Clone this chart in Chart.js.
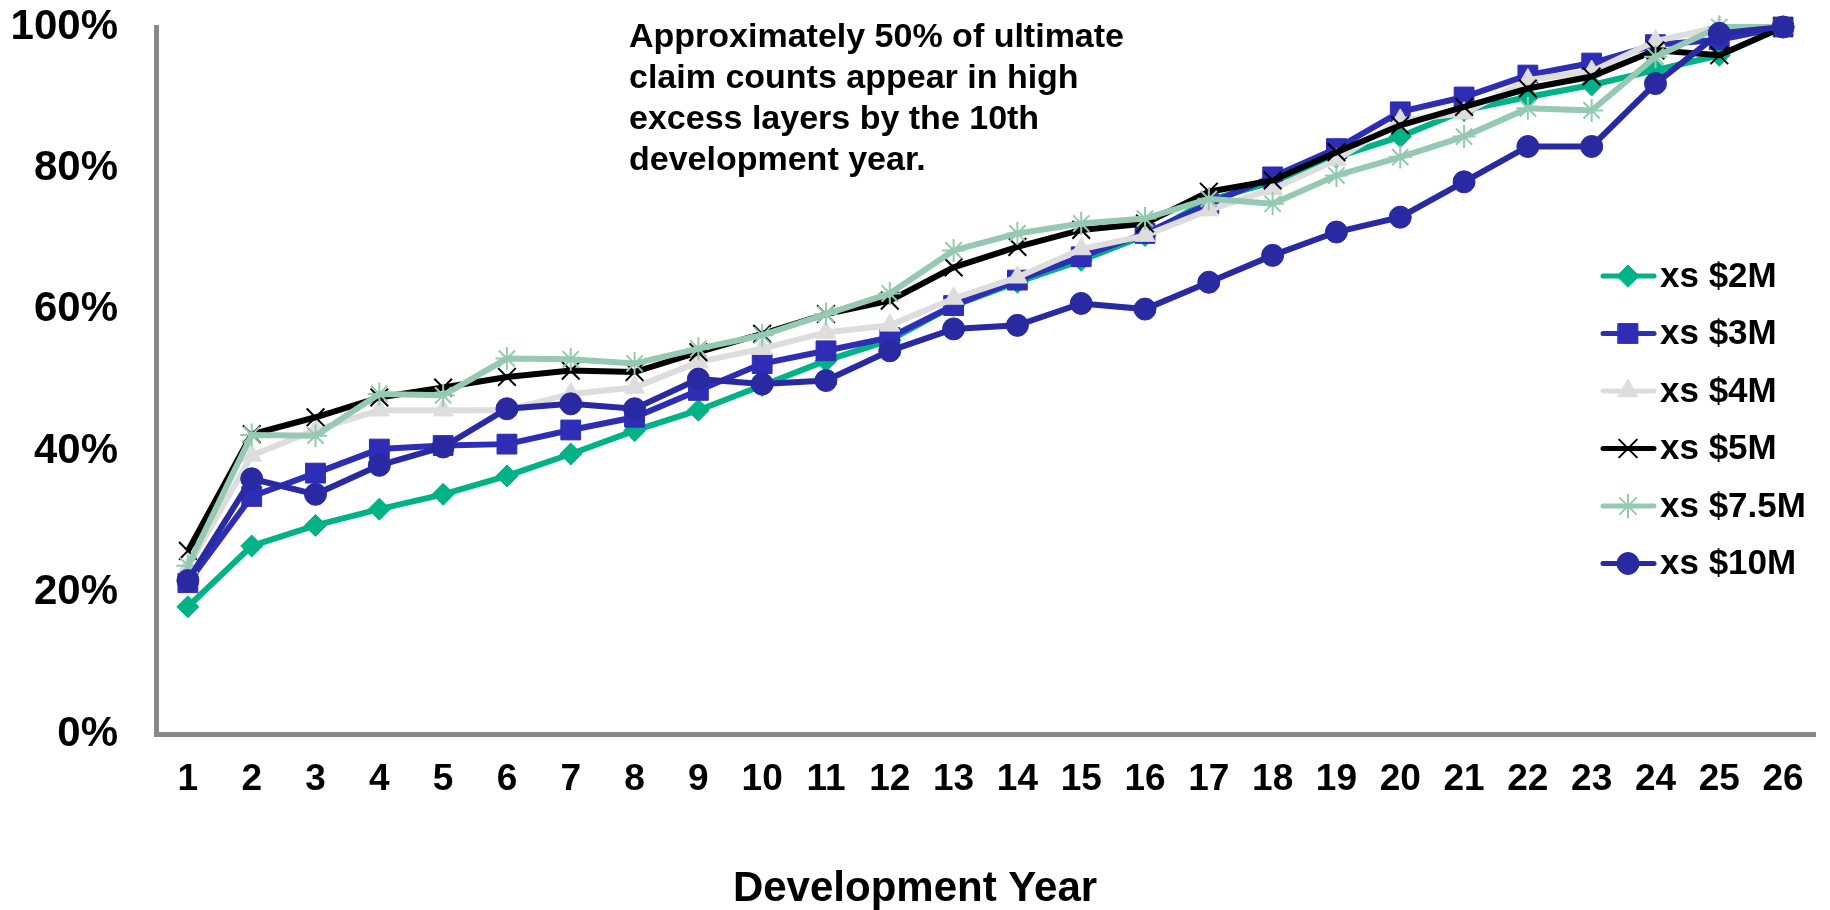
<!DOCTYPE html>
<html>
<head>
<meta charset="utf-8">
<title>Claim count development by excess layer</title>
<script src="https://cdn.jsdelivr.net/npm/chart.js@4.4.1/dist/chart.umd.min.js"></script>
<style>
  html, body { margin: 0; padding: 0; background: #ffffff; }
  #wrap { width: 1830px; height: 910px; }
</style>
</head>
<body>
<div id="wrap"><canvas id="chart" width="1830" height="910"></canvas></div>
<script>
// Development years on the category axis
const years = ['1','2','3','4','5','6','7','8','9','10','11','12','13',
               '14','15','16','17','18','19','20','21','22','23','24','25','26'];

// Cumulative share of ultimate claim counts (%) for each excess layer
const xs2M   = [18.0, 26.6, 29.5, 31.8, 33.9, 36.5, 39.6, 42.9, 45.8, 49.3, 52.8, 55.7, 60.6,
                63.9, 67.0, 70.5, 75.5, 78.1, 81.6, 84.5, 88.2, 90.1, 91.8, 93.9, 96.0, 100];
const xs3M   = [21.4, 33.6, 36.9, 40.3, 40.8, 41.0, 43.0, 44.8, 48.6, 52.4, 54.2, 56.1, 60.6,
                64.2, 67.5, 70.8, 75.0, 78.8, 82.8, 88.0, 90.1, 93.2, 94.9, 97.5, 98.2, 100];
const xs4M   = [23.6, 39.4, 43.0, 45.8, 45.8, 45.8, 48.1, 49.0, 52.6, 54.5, 56.8, 57.8, 61.6,
                64.6, 68.6, 70.5, 74.1, 77.1, 81.2, 86.8, 87.8, 92.5, 93.7, 98.0, 100, 100];
const xs5M   = [25.9, 42.4, 44.8, 47.6, 49.0, 50.5, 51.4, 51.2, 54.0, 56.6, 59.4, 61.3, 66.0,
                68.9, 71.3, 72.2, 76.7, 78.3, 82.3, 86.1, 88.7, 91.3, 93.0, 96.7, 96.0, 100];
const xs75M  = [23.8, 42.3, 42.2, 48.1, 47.9, 53.1, 53.0, 52.4, 54.5, 56.4, 59.4, 62.3, 68.4,
                70.8, 72.2, 72.9, 75.7, 75.0, 79.0, 81.6, 84.5, 88.5, 88.2, 95.8, 100, 100];
const xs10M  = [21.7, 36.1, 33.9, 38.0, 40.6, 46.0, 46.7, 46.0, 50.2, 49.5, 50.0, 54.2, 57.3,
                57.8, 60.9, 60.1, 63.9, 67.7, 71.0, 73.1, 78.1, 83.1, 83.1, 92.0, 99.1, 100];

// Series names
const seriesNames = ['xs $2M', 'xs $3M', 'xs $4M', 'xs $5M', 'xs $7.5M', 'xs $10M'];

// Value-axis ticks and their labels
const yTickValues = [0, 20, 40, 60, 80, 100];
const yTickLabels = ['0%', '20%', '40%', '60%', '80%', '100%'];

// Annotation and axis title text
const noteLines = ['Approximately 50% of ultimate',
                   'claim counts appear in high',
                   'excess layers by the 10th',
                   'development year.'];
const xAxisTitle = 'Development Year';

const FONT = "'Liberation Sans', Arial, Helvetica, sans-serif";

function series(label, data, color, style, radius, borderW, idx) {
  return {
    label: label,
    data: data,
    borderColor: color,
    backgroundColor: color,
    borderWidth: 6,
    pointStyle: style,
    pointRadius: radius,
    pointHoverRadius: radius,
    pointBackgroundColor: color,
    pointBorderColor: color,
    pointBorderWidth: borderW,
    tension: 0,
    fill: false,
    clip: false,
    order: 5 - idx   // later layers are painted on top
  };
}

const datasets = [
  series(seriesNames[0], xs2M,  '#00B386', 'rectRot',  11,   1, 0),
  series(seriesNames[1], xs3M,  '#2D2DB6', 'rect',     14,   1, 1),
  series(seriesNames[2], xs4M,  '#DDDDDD', 'triangle', 11.5, 1, 2),
  series(seriesNames[3], xs5M,  '#000000', 'crossRot', 12.5, 2, 3),
  series(seriesNames[4], xs75M, '#95C9B2', 'star',     11.5, 2, 4),
  series(seriesNames[5], xs10M, '#2929A2', 'circle',   11,   1, 5)
];

// Legend drawn over the right side of the plot, line + marker + label
const sideLegend = {
  id: 'sideLegend',
  afterDraw(chart) {
    const ctx = chart.ctx;
    const x0 = 1603, x1 = 1654, xm = 1628, xt = 1660;
    chart.data.datasets.forEach((ds, i) => {
      const y = 276 + i * 57.5;
      ctx.save();
      ctx.lineCap = 'round';
      ctx.strokeStyle = ds.borderColor;
      ctx.lineWidth = 5;
      ctx.beginPath();
      ctx.moveTo(x0, y);
      ctx.lineTo(x1, y);
      ctx.stroke();
      ctx.fillStyle = ds.pointBackgroundColor;
      ctx.strokeStyle = ds.pointBorderColor;
      ctx.lineWidth = ds.pointBorderWidth;
      Chart.helpers.drawPoint(ctx, {
        pointStyle: ds.pointStyle,
        radius: ds.pointRadius,
        rotation: 0,
        borderWidth: ds.pointBorderWidth
      }, xm, y);
      ctx.fillStyle = '#000000';
      ctx.font = 'bold 35px ' + FONT;
      ctx.textAlign = 'left';
      ctx.textBaseline = 'middle';
      ctx.fillText(ds.label, xt, y + 1);
      ctx.restore();
    });
  }
};

// Free-standing note and the category-axis title
const textBlocks = {
  id: 'textBlocks',
  afterDraw(chart) {
    const ctx = chart.ctx;
    ctx.save();
    ctx.fillStyle = '#000000';
    ctx.textBaseline = 'alphabetic';
    ctx.textAlign = 'left';
    ctx.font = 'bold 34px ' + FONT;
    noteLines.forEach((t, i) => ctx.fillText(t, 629, 47 + i * 41));
    ctx.textAlign = 'center';
    ctx.font = 'bold 42px ' + FONT;
    ctx.fillText(xAxisTitle, chart.width / 2, 901);
    ctx.restore();
  }
};

new Chart(document.getElementById('chart'), {
  type: 'line',
  data: { labels: years, datasets: datasets },
  options: {
    responsive: false,
    animation: false,
    events: [],
    layout: { padding: { top: 27, right: 15, bottom: 0, left: 0 } },
    plugins: {
      legend: { display: false },
      tooltip: { enabled: false },
      title: { display: false }
    },
    scales: {
      x: {
        type: 'category',
        offset: true,
        grid: { display: false, drawTicks: false },
        border: { display: true, color: '#888888', width: 5 },
        ticks: {
          autoSkip: false,
          maxRotation: 0,
          padding: 24,
          color: '#000000',
          font: { family: FONT, size: 37, weight: 'bold' }
        },
        afterFit(scale) {
          scale.height = 176;
          scale.paddingLeft = 0; scale.paddingRight = 0;
          scale.paddingTop = 0; scale.paddingBottom = 0;
        }
      },
      y: {
        min: 0,
        max: 100,
        afterBuildTicks(scale) { scale.ticks = yTickValues.map(v => ({ value: v })); },
        grid: { display: false, drawTicks: false },
        border: { display: true, color: '#888888', width: 5 },
        ticks: {
          padding: 38,
          color: '#000000',
          font: { family: FONT, size: 42, weight: 'bold' },
          callback: (v) => yTickLabels[yTickValues.indexOf(v)]
        },
        afterFit(scale) {
          scale.width = 156;
          scale.paddingTop = 0; scale.paddingBottom = 0;
          scale.paddingLeft = 0; scale.paddingRight = 0;
        }
      }
    }
  },
  plugins: [sideLegend, textBlocks]
});
</script>
</body>
</html>
